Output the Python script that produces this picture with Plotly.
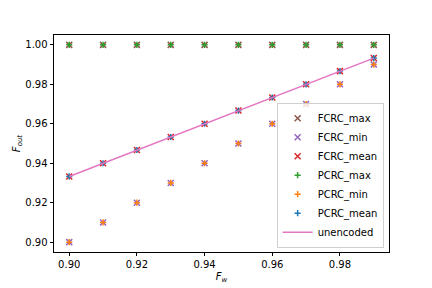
import plotly.graph_objects as go

f_w = [0.90, 0.91, 0.92, 0.93, 0.94, 0.95, 0.96, 0.97, 0.98, 0.99]
fcrc_max = [1.00, 1.00, 1.00, 1.00, 1.00, 1.00, 1.00, 1.00, 1.00, 1.00]
fcrc_min = [0.90, 0.91, 0.92, 0.93, 0.94, 0.95, 0.96, 0.97, 0.98, 0.99]
fcrc_mean = [0.9333, 0.9400, 0.9467, 0.9533, 0.9600, 0.9667, 0.9733, 0.9800, 0.9867, 0.9933]
pcrc_max = [1.00, 1.00, 1.00, 1.00, 1.00, 1.00, 1.00, 1.00, 1.00, 1.00]
pcrc_min = [0.90, 0.91, 0.92, 0.93, 0.94, 0.95, 0.96, 0.97, 0.98, 0.99]
pcrc_mean = [0.9333, 0.9400, 0.9467, 0.9533, 0.9600, 0.9667, 0.9733, 0.9800, 0.9867, 0.9933]
unencoded = [0.9333, 0.9400, 0.9467, 0.9533, 0.9600, 0.9667, 0.9733, 0.9800, 0.9867, 0.9933]

x_ticks = [0.90, 0.92, 0.94, 0.96, 0.98]
y_ticks = [0.90, 0.92, 0.94, 0.96, 0.98, 1.00]

series = [
    ("FCRC_max", fcrc_max, "x-thin", "#8c564b"),
    ("FCRC_min", fcrc_min, "x-thin", "#9467bd"),
    ("FCRC_mean", fcrc_mean, "x-thin", "#d62728"),
    ("PCRC_max", pcrc_max, "cross-thin", "#2ca02c"),
    ("PCRC_min", pcrc_min, "cross-thin", "#ff7f0e"),
    ("PCRC_mean", pcrc_mean, "cross-thin", "#1f77b4"),
]

fig = go.Figure()
for name, vals, sym, col in series:
    fig.add_trace(go.Scatter(
        x=f_w, y=vals, mode="markers", name=name,
        marker=dict(symbol=sym, size=6 if sym == "x-thin" else 4.4,
                    line=dict(color=col, width=1.5), color=col),
    ))
fig.add_trace(go.Scatter(
    x=f_w, y=unencoded, mode="lines", name="unencoded",
    line=dict(color="#e377c2", width=1.5),
))

font = dict(family="DejaVu Sans", size=10, color="black")
fig.update_layout(
    width=432, height=288,
    margin=dict(l=54, r=43, t=35, b=36),
    paper_bgcolor="white", plot_bgcolor="white",
    font=font,
    showlegend=True,
    legend=dict(
        x=0.984, y=0.02, xanchor="right", yanchor="bottom",
        bgcolor="rgba(255,255,255,0.8)", bordercolor="#d0d0d0", borderwidth=1,
        font=dict(family="DejaVu Sans", size=10, color="black"),
        itemwidth=30, tracegroupgap=0,
    ),
)
fig.update_xaxes(
    range=[0.8955, 0.9945], tickvals=x_ticks, tickformat=".2f",
    showgrid=False, zeroline=False, automargin=False,
    showline=True, linecolor="black", linewidth=0.8, mirror=True,
    ticks="outside", ticklen=3.5, tickwidth=0.8, tickcolor="black",
    title=dict(text="<i>F</i><sub><i>w</i></sub>", font=font, standoff=3),
)
fig.update_yaxes(
    range=[0.895, 1.005], tickvals=y_ticks, tickformat=".2f",
    showgrid=False, zeroline=False, automargin=False,
    showline=True, linecolor="black", linewidth=0.8, mirror=True,
    ticks="outside", ticklen=3.5, tickwidth=0.8, tickcolor="black",
    title=dict(text="<i>F</i><sub><i>out</i></sub>", font=font, standoff=2),
)
fig.write_html("out.html", config={"displayModeBar": False},
               post_script="document.body.style.margin='0';")
